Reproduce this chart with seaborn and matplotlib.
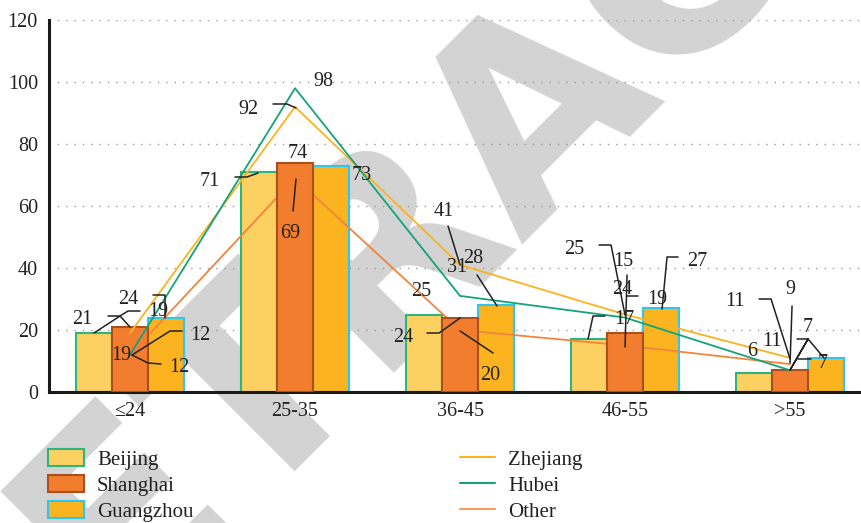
import numpy as np
import pandas as pd
import seaborn as sns
import matplotlib
matplotlib.use("Agg")
import matplotlib.pyplot as plt
from matplotlib.lines import Line2D
from matplotlib.patches import Patch

# ---------------- data ----------------
categories = ["≤24", "25-35", "36-45", "46-55", ">55"]
bar_series = ["Beijing", "Shanghai", "Guangzhou"]
beijing = [19, 71, 25, 17, 6]
shanghai = [21, 74, 24, 19, 7]
guangzhou = [24, 73, 28, 27, 11]
line_series = ["Zhejiang", "Hubei", "Other"]
zhejiang = [19, 92, 41, 25, 11]
hubei = [12, 98, 31, 24, 7]
other = [12, 69, 20, 15, 9]
yticks = [0, 20, 40, 60, 80, 100, 120]
watermark = "RETRACTED"

values = {"Beijing": beijing, "Shanghai": shanghai, "Guangzhou": guangzhou,
          "Zhejiang": zhejiang, "Hubei": hubei, "Other": other}

# ---------------- style ----------------
bar_fill = {"Beijing": "#FDD062", "Shanghai": "#F27D2F", "Guangzhou": "#FBB31F"}
bar_edge = {"Beijing": "#2DB57F", "Shanghai": "#A9501E", "Guangzhou": "#2EC6EE"}
bar_z = {"Beijing": 2, "Shanghai": 3.2, "Guangzhou": 2}
line_col = {"Zhejiang": "#FBB31F", "Hubei": "#14A37A", "Other": "#F4843C"}
line_z = {"Zhejiang": 4, "Hubei": 4, "Other": 2.6}

sns.set_theme(style="white")
plt.rcParams["font.family"] = ["Liberation Serif", "DejaVu Serif"]

W, H = 861, 523
fig = plt.figure(figsize=(W / 100, H / 100), dpi=100)
ax = fig.add_axes([49 / W, (H - 392) / H, (W - 49) / W, (392 - 20) / H])
ax.set_facecolor("none")

def to_fig(px, py):
    return px / W, 1 - py / H

# background watermark (drawn beneath the axes)
wx, wy = to_fig(590, 152)
fig.text(wx, wy, watermark, rotation=45, rotation_mode="anchor", ha="center",
         va="baseline", fontsize=191, fontweight="bold", family="DejaVu Sans",
         color="#d3d3d3", zorder=-5)

bars_df = pd.DataFrame({
    "age": categories * len(bar_series),
    "city": [c for c in bar_series for _ in categories],
    "value": beijing + shanghai + guangzhou,
})
sns.barplot(data=bars_df, x="age", y="value", hue="city", order=categories,
            hue_order=bar_series, palette=[bar_fill[s] for s in bar_series],
            width=0.66, saturation=1, errorbar=None, legend=False, ax=ax)
for name, cont in zip(bar_series, ax.containers):
    for p in cont.patches:
        p.set_edgecolor(bar_edge[name])
        p.set_linewidth(1.5)
        p.set_zorder(bar_z[name])

lines_df = pd.DataFrame({
    "pos": list(range(len(categories))) * len(line_series),
    "series": [s for s in line_series for _ in categories],
    "value": zhejiang + hubei + other,
})
n_before = len(ax.lines)
sns.lineplot(data=lines_df, x="pos", y="value", hue="series", hue_order=line_series,
             palette=[line_col[s] for s in line_series], linewidth=1.3,
             errorbar=None, legend=False, ax=ax)
for name, ln in zip(line_series, ax.lines[n_before:]):
    ln.set_zorder(line_z[name])

ax.set_xlim(-0.491, 4.43)
ax.set_ylim(0, 120)
ax.set_yticks(yticks)
ax.set_xlabel("")
ax.set_ylabel("")
ax.yaxis.grid(True, linestyle=(0, (1, 5)), color="#9a9a9a", linewidth=1)
ax.xaxis.grid(False)
ax.set_axisbelow(True)
for s in ["top", "right"]:
    ax.spines[s].set_visible(False)
for s in ["left", "bottom"]:
    ax.spines[s].set_color("#1a1a1a")
    ax.spines[s].set_linewidth(2.2)
ax.tick_params(axis="y", length=0, pad=8, labelsize=14.5, labelcolor="#222222")
ax.tick_params(axis="x", length=0, pad=7, labelsize=14.5, labelcolor="#222222")

# ---------------- data labels (offsets in px from category baseline) ----------------
labels = [
    # group 0
    ("Shanghai", 0, (-48, -72), [(-22, -76), (-10, -76), (-36, -59)]),
    ("Guangzhou", 0, (-2, -93), [(10, -81), (-2, -81), (-10, -76), (0, -65)]),
    ("Beijing", 0, (28, -80), [(23, -97), (35, -97), (35, -74)]),
    ("Zhejiang", 0, (-9, -37), None),
    ("Hubei", 0, (70, -57), [(2, -37), (40, -61), (52, -61)]),
    ("Other", 0, (49, -25), [(2, -37), (18, -29), (31, -28)]),
    # group 1
    ("Hubei", 1, (28, -311), None),
    ("Zhejiang", 1, (-47, -283), [(-22, -288), (-8, -288), (1, -284)]),
    ("Shanghai", 1, (3, -238), None),
    ("Beijing", 1, (-85, -211), [(-60, -215), (-48, -215), (-37, -219)]),
    ("Guangzhou", 1, (67, -217), None),
    ("Other", 1, (-5, -159), [(-2, -181), (1, -213)]),
    # group 2
    ("Zhejiang", 2, (-16, -181), [(-12, -166), (0, -127)]),
    ("Hubei", 2, (-3, -125), None),
    ("Guangzhou", 2, (13, -134), [(17, -117), (37, -86)]),
    ("Beijing", 2, (-39, -100), None),
    ("Shanghai", 2, (-57, -54), [(-33, -59), (-21, -59), (0, -74)]),
    ("Other", 2, (30, -17), [(0, -61), (33, -39)]),
    # group 3
    ("Zhejiang", 3, (-51, -143), [(-26, -147), (-14, -147), (0, -77)]),
    ("Other", 3, (-2, -131), [(2, -117), (0, -45)]),
    ("Hubei", 3, (-3, -103), [(2, -96), (13, -96)]),
    ("Beijing", 3, (-1, -73), [(-37, -53), (-32, -76), (-20, -76)]),
    ("Shanghai", 3, (32, -93), None),
    ("Guangzhou", 3, (72, -130), [(53, -135), (42, -135), (37, -83)]),
    # group 4
    ("Zhejiang", 4, (-55, -90), [(-31, -93), (-19, -93), (0, -33)]),
    ("Other", 4, (0, -102), [(2, -86), (0, -29)]),
    ("Beijing", 4, (-38, -41), None),
    ("Guangzhou", 4, (-18, -50), None),
    ("Hubei", 4, (18, -65), [(7, -53), (18, -53), (0, -22), (18, -53), (34, -34)]),
    ("Shanghai", 4, (33, -28), [(8, -33), (21, -33)]),
]

for series, gi, (tx, ty), leader in labels:
    bx, by = ax.transData.transform((gi, 0))
    cx, cy = bx, H - by
    val = values[series][gi]
    fx, fy = to_fig(cx + tx, cy + ty)
    fig.text(fx, fy, str(val), ha="center", va="center", fontsize=14.5,
             color="#222222", zorder=6)
    if leader:
        pts = [to_fig(cx + dx, cy + dy) for dx, dy in leader]
        fig.add_artist(Line2D([p[0] for p in pts], [p[1] for p in pts],
                              transform=fig.transFigure, color="#222222",
                              linewidth=1.1, zorder=6))

# ---------------- legends ----------------
patch_handles = [Patch(facecolor=bar_fill[s], edgecolor=bar_edge[s], linewidth=1.5)
                 for s in bar_series]
leg1 = fig.legend(patch_handles, bar_series, loc="upper left",
                  bbox_to_anchor=(48 / W, 1 - 449 / H), frameon=False, fontsize=15,
                  handlelength=1.73, handleheight=0.85, handletextpad=0.62,
                  labelspacing=0.27, borderpad=0, borderaxespad=0)
for t in leg1.get_texts():
    t.set_color("#222222")
line_handles = [Line2D([], [], color=line_col[s], linewidth=1.5,
                       alpha=0.8 if s == "Other" else 1.0) for s in line_series]
leg2 = fig.legend(line_handles, line_series, loc="upper left",
                  bbox_to_anchor=(460 / W, 1 - 449 / H), frameon=False, fontsize=15,
                  handlelength=1.68, handleheight=0.85, handletextpad=0.62,
                  labelspacing=0.27, borderpad=0, borderaxespad=0)
for t in leg2.get_texts():
    t.set_color("#222222")

fig.savefig("out.png", dpi=100)
